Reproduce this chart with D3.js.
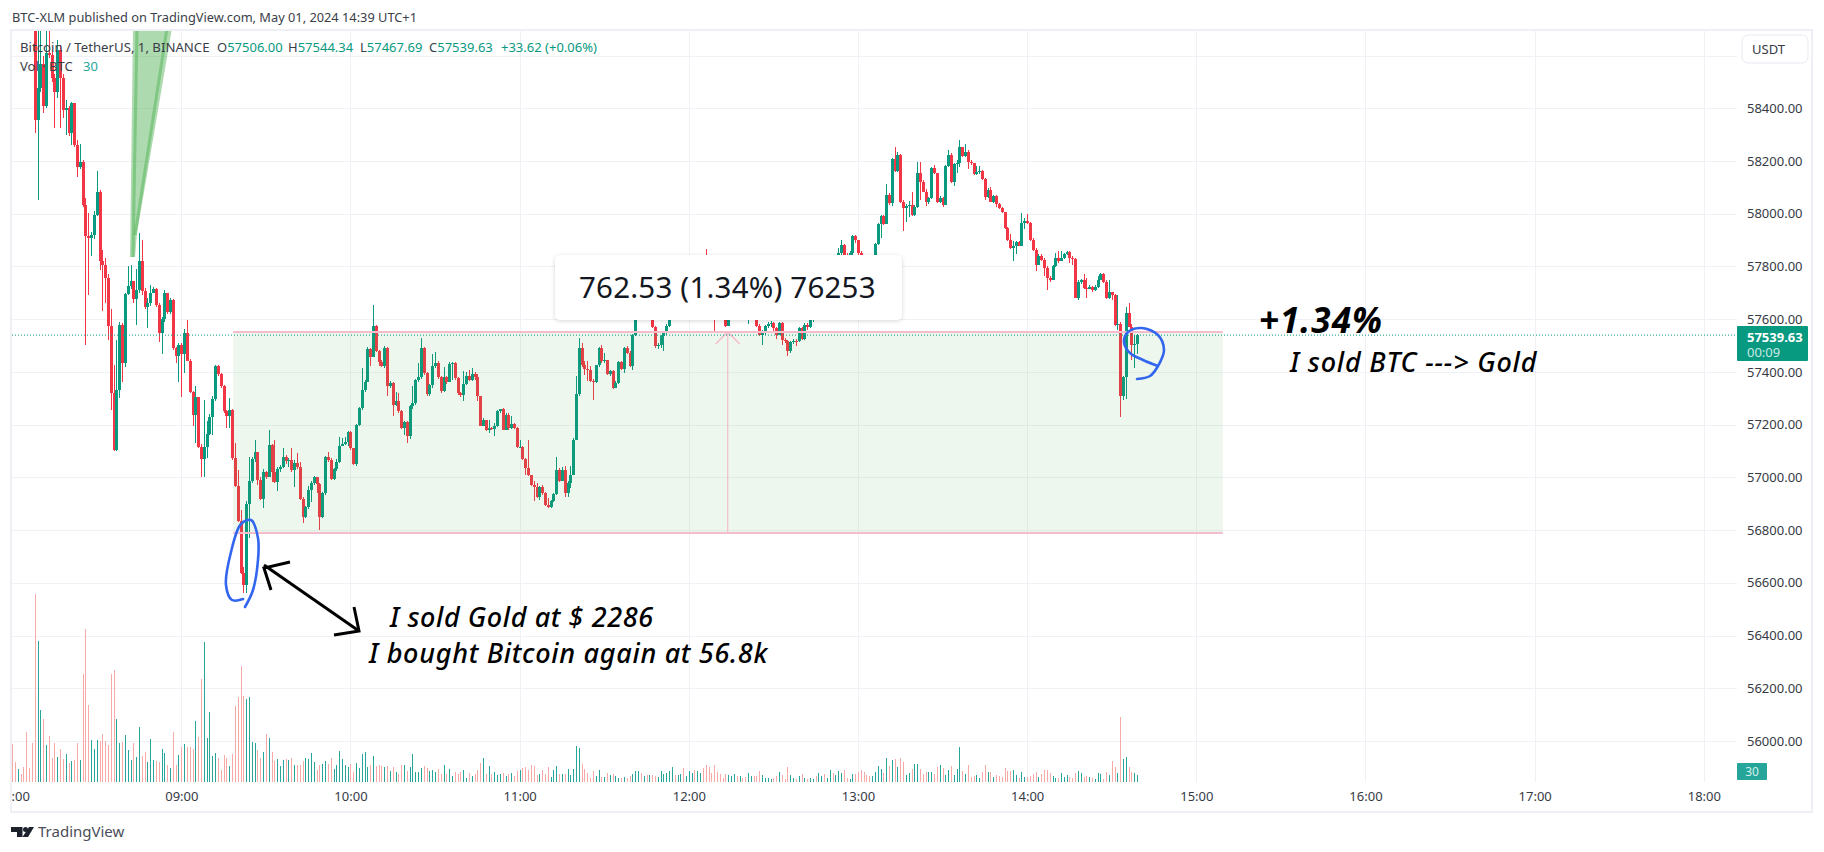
<!DOCTYPE html>
<html><head><meta charset="utf-8">
<script src="https://cdnjs.cloudflare.com/ajax/libs/d3/7.8.5/d3.min.js"></script>
<style>
html,body{margin:0;padding:0;background:#fff;overflow:hidden}
svg{display:block;font-family:"Noto Sans",sans-serif}
</style></head><body><div id="chart"></div>
<script>
// minutes since 08:00 are the array index
const firstOpen = 58990;
const closes = [
58960,58930,58950,58930,58910,58890,58870,58850,58356,58476,
58568,58409,58609,58602,58514,58463,58621,58514,58394,58400,
58305,58419,58261,58179,58198,58034,57914,57907,57920,57996,
58084,57819,57806,57756,57575,57319,57102,57332,57578,57433,
57696,57726,57745,57676,57711,57821,57708,57648,57663,57701,
57714,57654,57549,57600,57698,57629,57671,57492,57462,57503,
57468,57547,57443,57322,57235,57304,57117,57070,57117,57165,
57228,57296,57423,57393,57345,57250,57231,57256,57073,56969,
56836,56639,56590,56900,56987,57070,57095,56991,56919,57022,
57001,57123,57020,56984,57030,57040,57079,57063,57066,57029,
57056,57040,56919,56848,56886,56953,56978,57001,56975,56848,
56940,57079,57066,56994,57031,57060,57120,57128,57135,57171,
57111,57051,57199,57262,57332,57363,57487,57458,57575,57481,
57439,57423,57490,57348,57357,57275,57288,57252,57189,57211,
57157,57269,57281,57370,57380,57490,57395,57315,57351,57423,
57433,57380,57326,57380,57363,57430,57432,57376,57319,57311,
57355,57383,57370,57393,57380,57307,57196,57219,57178,57187,
57183,57196,57250,57258,57181,57238,57187,57203,57187,57114,
57117,57069,57035,57008,56970,56965,56924,56962,56940,56896,
56887,56909,56938,57029,56987,57029,56940,56978,57010,57143,
57317,57490,57427,57411,57408,57366,57360,57425,57490,57440,
57444,57392,57404,57339,57358,57436,57411,57490,57471,57421,
57541,57636,57660,57640,57690,57660,57700,57570,57497,57503,
57538,57547,57575,57620,57650,57630,57670,57690,57660,57680,
57710,57740,57720,57760,57790,57770,57740,57700,57680,57650,
57640,57630,57610,57575,57600,57640,57660,57640,57670,57650,
57630,57640,57660,57640,57573,57541,57550,57573,57583,57585,
57566,57541,57585,57522,57519,57478,57512,57519,57517,57566,
57525,57578,57570,57600,57630,57615,57660,57690,57670,57720,
57760,57745,57800,57851,57882,57844,57835,57850,57914,57899,
57851,57844,57820,57800,57780,57820,57886,57962,57992,57962,
58072,58040,58208,58163,58223,58046,58021,58030,58034,57996,
58025,58154,58122,58084,58046,58059,58173,58154,58046,58061,
58034,58181,58223,58122,58189,58192,58252,58219,58236,58198,
58192,58150,58160,58164,58132,58065,58090,58046,58069,58037,
58021,58005,57945,57901,57869,57876,57891,57879,57964,57973,
57964,57901,57863,57806,57838,57825,57793,57756,57750,57800,
57831,57819,57831,57848,57854,57831,57829,57682,57743,57747,
57718,57716,57724,57709,57724,57749,57772,57743,57680,57702,
57692,57579,57580,57307,57380,57623,57572,57503,57506,57539.63];
const highs = [
59000,58970,58970,58960,58940,58920,58900,58880,58860,58800,
58720,58600,58725,58700,58620,58530,58660,58640,58530,58432,
58410,58425,58420,58280,58265,58205,58059,58002,57930,58010,
58163,58090,57863,57831,57770,57640,57427,57521,57590,57585,
57700,57800,57806,57745,57790,57926,57901,57720,57680,57730,
57724,57720,57660,57610,57711,57700,57680,57675,57495,57510,
57510,57562,57597,57450,57326,57347,57304,57125,57294,57212,
57240,57307,57427,57425,57395,57350,57255,57300,57260,57130,
57029,56877,56660,56910,57079,57079,57142,57098,57003,57030,
57025,57178,57126,57142,57039,57048,57111,57085,57075,57111,
57065,57092,57060,56927,56890,56968,56985,57005,57003,56980,
56945,57082,57098,57073,57035,57070,57155,57150,57155,57175,
57175,57111,57203,57268,57414,57370,57495,57490,57654,57578,
57485,57445,57500,57495,57365,57360,57325,57319,57255,57215,
57215,57275,57345,57375,57433,57528,57495,57398,57355,57468,
57477,57440,57385,57418,57385,57439,57439,57439,57380,57325,
57402,57398,57406,57415,57398,57393,57310,57225,57212,57219,
57192,57206,57254,57259,57262,57244,57244,57231,57205,57190,
57143,57120,57073,57143,57010,56988,56978,56968,56972,56945,
56922,56915,56941,57077,57035,57039,57042,56985,57042,57149,
57383,57528,57509,57440,57440,57421,57373,57427,57493,57503,
57471,57446,57408,57408,57364,57440,57440,57494,57497,57478,
57545,57650,57680,57670,57710,57700,57720,57710,57575,57510,
57541,57550,57580,57640,57670,57660,57690,57710,57700,57700,
57730,57760,57750,57780,57810,57800,57867,57750,57720,57700,
57670,57660,57640,57620,57620,57660,57680,57670,57690,57680,
57660,57670,57680,57680,57650,57580,57560,57578,57590,57592,
57590,57570,57590,57590,57530,57522,57518,57525,57525,57572,
57570,57585,57585,57610,57640,57640,57680,57700,57700,57740,
57780,57775,57830,57870,57899,57885,57850,57860,57918,57918,
57900,57860,57840,57830,57810,57830,57890,57966,57996,57995,
58113,58078,58211,58252,58236,58225,58053,58037,58050,58084,
58034,58198,58198,58128,58093,58065,58176,58185,58156,58068,
58065,58185,58242,58230,58192,58202,58280,58255,58265,58240,
58202,58194,58181,58181,58166,58135,58097,58103,58072,58072,
58040,58027,58008,57951,57924,57895,57895,57895,58002,57983,
57998,57970,57907,57869,57848,57848,57831,57800,57762,57806,
57853,57857,57857,57853,57857,57857,57838,57834,57749,57752,
57771,57755,57730,57726,57730,57762,57775,57775,57747,57747,
57705,57696,57692,57591,57385,57648,57661,57582,57540,57544.34];
const lows = [
58940,58900,58920,58910,58890,58860,58850,58820,58308,58053,
58460,58381,58400,58590,58500,58324,58440,58324,58362,58299,
58295,58259,58255,58141,58170,58027,57503,57690,57838,57905,
57990,57787,57633,57661,57521,57254,57100,57100,57300,57360,
57420,57690,57715,57660,57578,57700,57690,57640,57566,57650,
57698,57645,57515,57468,57590,57620,57620,57485,57433,57360,
57304,57395,57440,57319,57193,57130,57110,57003,57003,57073,
57160,57161,57290,57385,57340,57245,57187,57187,57066,56965,
56830,56635,56562,56560,56769,56980,57060,56972,56915,56883,
56995,57000,56984,56978,56950,57020,57035,57050,57040,57020,
56965,57030,56915,56826,56845,56880,56908,56970,56940,56801,
56845,56935,57060,56990,56990,57025,57055,57118,57122,57120,
57105,57047,57044,57195,57255,57325,57360,57423,57455,57475,
57423,57417,57414,57307,57340,57233,57270,57245,57182,57161,
57130,57145,57260,57275,57360,57375,57390,57310,57310,57338,
57415,57375,57320,57322,57355,57363,57370,57370,57313,57304,
57288,57352,57365,57365,57370,57288,57193,57193,57175,57168,
57178,57158,57191,57245,57178,57178,57178,57185,57183,57110,
57111,57067,57010,57004,56966,56909,56920,56915,56934,56890,
56885,56885,56905,56935,56983,56985,56925,56925,56960,57010,
57140,57310,57420,57389,57366,57362,57294,57357,57420,57435,
57433,57388,57383,57335,57339,57355,57408,57396,57469,57418,
57408,57538,57630,57630,57635,57650,57650,57566,57490,57487,
57490,57481,57540,57570,57610,57610,57625,57660,57650,57650,
57670,57700,57710,57715,57750,57750,57730,57690,57660,57556,
57610,57610,57600,57570,57575,57600,57630,57625,57630,57640,
57620,57583,57630,57620,57570,57535,57503,57540,57565,57570,
57550,57525,57540,57503,57510,57459,57472,57505,57497,57515,
57520,57522,57560,57565,57590,57600,57610,57650,57660,57665,
57710,57735,57740,57795,57845,57835,57825,57830,57845,57890,
57840,57835,57810,57790,57770,57775,57815,57880,57907,57958,
57960,58034,58030,58160,58160,58042,57936,57970,57987,57993,
57992,58021,58053,58082,58030,58037,58056,58150,58042,58040,
58027,58032,58179,58118,58106,58154,58176,58217,58217,58169,
58185,58147,58147,58150,58128,58053,58059,58046,58042,58025,
58018,58002,57943,57898,57865,57819,57848,57876,57876,57943,
57962,57898,57860,57781,57806,57822,57764,57711,57743,57753,
57797,57815,57819,57828,57844,57815,57806,57680,57671,57734,
57714,57682,57714,57705,57706,57718,57747,57739,57676,57677,
57673,57576,57560,57228,57292,57297,57570,57446,57414,57467.69];
const volumes = [
163,86,54,34,64,213,60,167,806,605,
309,270,159,197,103,167,107,142,99,120,
82,90,94,167,94,463,656,330,180,142,
180,176,206,176,159,463,480,270,167,172,
202,137,94,167,107,236,112,129,86,184,
94,90,86,142,124,73,60,213,73,116,
150,163,150,150,142,262,193,442,600,189,
300,112,124,103,51,116,103,69,120,326,
365,498,369,356,365,172,167,137,103,129,
206,189,129,90,99,69,94,99,94,103,
73,73,73,90,103,99,124,86,51,73,
77,90,77,103,56,73,133,99,73,64,
77,43,82,60,120,129,64,73,112,69,
73,69,64,69,47,64,43,34,73,73,
47,64,120,43,43,60,69,60,47,51,
43,56,34,73,34,56,26,44,34,41,
51,19,40,27,36,51,83,103,34,69,
33,44,30,34,39,26,33,39,26,47,
51,60,64,51,73,69,30,34,51,34,
64,21,51,69,34,34,34,56,30,56,
154,146,77,56,39,17,47,26,51,21,
21,39,30,34,26,17,17,21,17,26,
34,47,47,39,26,30,30,30,26,21,
47,34,39,47,64,30,30,34,60,26,
47,39,51,47,39,60,73,64,39,73,
43,34,17,34,30,26,34,26,26,17,
21,39,26,26,26,47,30,17,17,13,
17,26,43,30,13,64,30,17,13,26,
34,17,13,17,13,26,39,26,34,17,
51,39,30,47,39,51,17,13,34,34,
43,51,43,30,26,26,43,69,56,39,
103,69,94,99,64,103,86,30,39,56,
77,77,56,34,43,43,43,34,64,73,
60,30,51,69,30,56,150,47,34,73,
21,26,30,17,43,73,43,43,21,30,
26,21,60,47,47,51,30,17,43,21,
21,26,34,43,21,34,51,51,39,26,
17,17,39,21,30,21,17,39,47,39,
21,26,21,17,13,39,34,13,43,30,
90,64,39,279,99,107,64,43,39,30];
const priceTicks = [56000,56200,56400,56600,56800,57000,57200,57400,57600,57800,58000,58200,58400];
const gridPrices = [...priceTicks,58600];
const timeTicks = [0,60,120,180,240,300,360,420,480,540,600];
const timeLabels = [":00","09:00","10:00","11:00","12:00","13:00","14:00","15:00","16:00","17:00","18:00"];
const lastPrice = 57539.63;
const measureLow = 56789, measureHigh = 57551.53;
const measureStart = 78.4, measureEnd = 429.4, measureMid = 253.8;

const W=1824,H=852;
const green="#089981",red="#f23645",greenV="#26a69a",redV="#f7a9a7",gridC="#f0f1f6",frame="#eff0f6";
const paneL=12,paneR=1737,paneT=31,paneB=782;

// price and time scales, fixed by two known gridline readings each
const x=d3.scaleLinear().domain([60,420]).range([181.3,1196.3]);
const y=d3.scaleLinear().domain([56000,58400]).range([741,108.3]);
const volY=d3.scaleLinear().domain([0,806]).range([paneB,594]);

const svg=d3.select("#chart").append("svg").attr("width",W).attr("height",H).attr("viewBox",`0 0 ${W} ${H}`);
svg.append("defs").append("clipPath").attr("id","pane").append("rect")
  .attr("x",paneL).attr("y",paneT).attr("width",paneR-paneL).attr("height",paneB-paneT);
const shadow=svg.select("defs").append("filter").attr("id","sh").attr("x","-5%").attr("y","-20%").attr("width","110%").attr("height","150%");
shadow.append("feDropShadow").attr("dx",0).attr("dy",1).attr("stdDeviation",2).attr("flood-color","#000").attr("flood-opacity",.16);

// grid
const grid=svg.append("g");
grid.selectAll("line.h").data(gridPrices).join("line").attr("class","h")
  .attr("x1",paneL).attr("x2",paneR).attr("y1",d=>Math.round(y(d))+.5).attr("y2",d=>Math.round(y(d))+.5)
  .attr("stroke",gridC);
grid.selectAll("line.v").data(timeTicks.slice(1)).join("line").attr("class","v")
  .attr("y1",paneT).attr("y2",paneB).attr("x1",d=>Math.round(x(d))+.5).attr("x2",d=>Math.round(x(d))+.5)
  .attr("stroke",gridC);

const pane=svg.append("g").attr("clip-path","url(#pane)");
const idx=d3.range(closes.length);
const open=i=>i?closes[i-1]:firstOpen;
const up=i=>closes[i]>=open(i);
const px=i=>Math.round(x(i));

// volume
pane.append("g").attr("shape-rendering","crispEdges").selectAll("rect").data(idx).join("rect")
  .attr("x",i=>px(i)).attr("width",1)
  .attr("y",i=>volY(volumes[i])).attr("height",i=>paneB-volY(volumes[i]))
  .attr("fill",i=>up(i)?greenV:redV);

// candles
const cg=pane.append("g").attr("shape-rendering","crispEdges");
cg.selectAll("rect.w").data(idx).join("rect").attr("class","w")
  .attr("x",i=>px(i)).attr("width",1).attr("y",i=>y(highs[i])).attr("height",i=>y(lows[i])-y(highs[i]))
  .attr("fill",i=>up(i)?green:red);
cg.selectAll("rect.b").data(idx).join("rect").attr("class","b")
  .attr("x",i=>px(i)-1).attr("width",3)
  .attr("y",i=>y(Math.max(open(i),closes[i])))
  .attr("height",i=>Math.max(1,Math.abs(y(open(i))-y(closes[i]))))
  .attr("fill",i=>up(i)?green:red);

// freehand green brush at the top
const brush=pane.append("g");
brush.append("path").attr("d","M133,28 L172,28 L137,233 L135,257 L130,257 Z").attr("fill","#4caf50").attr("opacity",.46);
brush.append("path").attr("d","M133,257 L137,28").attr("stroke","#4caf50").attr("stroke-width",3).attr("opacity",.45).attr("fill","none");
brush.append("path").attr("d","M135,235 L167,28").attr("stroke","#4caf50").attr("stroke-width",3).attr("opacity",.45).attr("fill","none");

// measure tool
pane.append("rect").attr("x",x(measureStart)).attr("width",x(measureEnd)-x(measureStart))
  .attr("y",y(measureHigh)).attr("height",y(measureLow)-y(measureHigh))
  .attr("fill","#4caf50").attr("fill-opacity",.1);
const pink="#f5bccb";
[measureHigh,measureLow].forEach(p=>pane.append("line").attr("x1",x(measureStart)).attr("x2",x(measureEnd))
  .attr("y1",y(p)).attr("y2",y(p)).attr("stroke",pink).attr("stroke-width",2));
pane.append("line").attr("x1",x(measureMid)).attr("x2",x(measureMid)).attr("y1",y(measureHigh)).attr("y2",y(measureLow))
  .attr("stroke",pink).attr("stroke-width",1.2);
pane.append("path").attr("d",`M${x(measureMid)-12},${y(measureHigh)+12} L${x(measureMid)},${y(measureHigh)} L${x(measureMid)+12},${y(measureHigh)+12}`)
  .attr("fill","none").attr("stroke",pink).attr("stroke-width",1.6);

// last price line
pane.append("line").attr("x1",paneL).attr("x2",paneR).attr("y1",y(lastPrice)).attr("y2",y(lastPrice))
  .attr("stroke",green).attr("stroke-width",1).attr("stroke-dasharray","1 2");

// measure label
svg.append("rect").attr("x",555).attr("y",255).attr("width",347).attr("height",65).attr("rx",5)
  .attr("fill","#fff").attr("filter","url(#sh)");
svg.append("text").attr("x",579).attr("y",298).attr("font-size",29.5).attr("letter-spacing",.2).attr("fill","#131722").text("762.53 (1.34%) 76253");

// freehand strokes
const free=d3.line().curve(d3.curveCatmullRom.alpha(.5));
const blue="#3366ee";
svg.append("path").attr("fill","none").attr("stroke",blue).attr("stroke-width",2.6).attr("stroke-linecap","round")
  .attr("d",free([[245,607],[253,590],[258,560],[258,538],[251,520],[241,524],[231,552],[226,585],[232,600],[243,599]]));
svg.append("path").attr("fill","none").attr("stroke",blue).attr("stroke-width",2.6).attr("stroke-linecap","round")
  .attr("d",free([[1137,379],[1150,376],[1158,366],[1164,350],[1158,335],[1142,328],[1128,332],[1124,342],[1130,353],[1143,360],[1158,366]]));
const arrow=svg.append("g").attr("fill","none").attr("stroke","#000").attr("stroke-width",3);
arrow.append("path").attr("d","M264,565 L359,631");
arrow.append("path").attr("d","M290,562 L264,568 L271,590");
arrow.append("path").attr("d","M354,607 L359,631 L334,635");

// hand written notes
const note=(t,nx,ny,fs,w,ls)=>svg.append("text").attr("x",nx).attr("y",ny).attr("font-size",fs)
  .attr("font-style","italic").attr("font-weight",w).attr("letter-spacing",ls).attr("fill","#000").text(t);
note("I sold Gold at $ 2286",390,627,27,500,.6);
note("I bought Bitcoin again at 56.8k",369,663,27,500,.7);
note("+1.34%",1259,333,35,700,1);
note("I sold BTC ---> Gold",1290,372,27,500,.8);

// price axis
const pAxis=d3.axisRight(y).tickValues(priceTicks).tickFormat(d=>d3.format(".2f")(d)).tickSize(0).tickPadding(10);
const pG=svg.append("g").attr("transform",`translate(${paneR},0)`).call(pAxis);
pG.select(".domain").remove();
pG.selectAll("text").attr("font-size",13).attr("fill","#363a45").attr("font-family","'Noto Sans',sans-serif");

// time axis
const tAxis=d3.axisBottom(x).tickValues(timeTicks).tickFormat((d,i)=>timeLabels[i]).tickSize(0).tickPadding(10);
const tG=svg.append("g").attr("transform",`translate(0,${paneB})`).call(tAxis);
tG.select(".domain").remove();
tG.selectAll("text").attr("font-size",13).attr("fill","#363a45").attr("font-family","'Noto Sans',sans-serif")
  .attr("dx",(d,i)=>i?0:8);

// price tag
svg.append("rect").attr("x",paneR).attr("y",326).attr("width",71).attr("height",35).attr("rx",1).attr("fill",green);
svg.append("text").attr("x",1747).attr("y",342).attr("font-size",13).attr("font-weight",700).attr("fill","#fff").text(d3.format(".2f")(lastPrice));
svg.append("text").attr("x",1747).attr("y",357).attr("font-size",13).attr("fill","#c8ebe4").text("00:09");
// volume tag
svg.append("rect").attr("x",paneR).attr("y",763).attr("width",30).attr("height",17).attr("rx",1).attr("fill","#26a69a");
svg.append("text").attr("x",1752).attr("y",776).attr("text-anchor","middle").attr("font-size",12).attr("fill","#d9f2ee").text(volumes[volumes.length-1]);
// currency button
svg.append("rect").attr("x",1742).attr("y",35).attr("width",66).attr("height",28).attr("rx",6).attr("fill","#fff").attr("stroke","#e8eaf2").attr("stroke-width",1);
svg.append("text").attr("x",1752).attr("y",54).attr("font-size",13).attr("fill","#363a45").text("USDT");

// legend
const dark="#3a3e49";
svg.append("text").attr("x",12).attr("y",22).attr("font-size",12.8).attr("fill",dark).text("BTC-XLM published on TradingView.com, May 01, 2024 14:39 UTC+1");
svg.append("text").attr("x",20).attr("y",52).attr("font-size",13.2).attr("fill",dark).text("Bitcoin / TetherUS, 1, BINANCE");
const leg=[["O","57506.00",217],["H","57544.34",288],["L","57467.69",360],["C","57539.63",429]];
leg.forEach(([a,b,lx])=>{
  const t=svg.append("text").attr("x",lx).attr("y",52).attr("font-size",13).attr("fill",dark);
  t.append("tspan").text(a); t.append("tspan").attr("fill",green).text(b);
});
svg.append("text").attr("x",501).attr("y",52).attr("font-size",13).attr("fill",green).text("+33.62 (+0.06%)");
svg.append("text").attr("x",20).attr("y",71).attr("font-size",13).attr("fill",dark).text("Vol · BTC");
svg.append("text").attr("x",83).attr("y",71).attr("font-size",13).attr("fill","#26a69a").text("30");

// frame
svg.append("rect").attr("x",11).attr("y",30).attr("width",1801).attr("height",782).attr("fill","none").attr("stroke",frame).attr("stroke-width",2);

// logo
const logo=svg.append("g").attr("fill","#1e222d");
logo.append("path").attr("d","M11,827 H22.5 V837 H17 V832 H11 Z");
logo.append("circle").attr("cx",25.5).attr("cy",829.5).attr("r",2.5);
logo.append("path").attr("d","M29,827 H34 L28,837 H22.5 Z");
svg.append("text").attr("x",38).attr("y",837).attr("font-size",15).attr("fill","#4a4e59").text("TradingView");
</script></body></html>
